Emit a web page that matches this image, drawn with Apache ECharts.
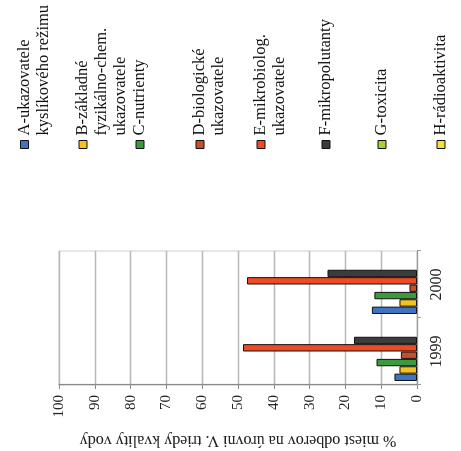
<!DOCTYPE html>
<html>
<head>
<meta charset="utf-8">
<script src="https://cdn.jsdelivr.net/npm/echarts@6/dist/echarts.min.js"></script>
<style>
  html, body { margin: 0; padding: 0; background: #fff; overflow: hidden; }
  /* the chart is laid out upright and turned a quarter turn counter-clockwise */
  #chart {
    position: absolute; left: 5px; top: -5px;
    width: 451px; height: 461px;
    transform: rotate(-90deg); transform-origin: 50% 50%;
  }
</style>
</head>
<body>
<div id="chart"></div>
<script>
// categories
const years = ['1999', '2000'];

// indicator groups (legend labels, one entry per text line)
const groupLabels = [
  ['A-ukazovatele', 'kyslíkového režimu'],
  ['B-základné', 'fyzikálno-chem.', 'ukazovatele'],
  ['C-nutrienty'],
  ['D-biologické', 'ukazovatele'],
  ['E-mikrobiolog.', 'ukazovatele'],
  ['F-mikropolutanty'],
  ['G-toxicita'],
  ['H-rádioaktivita']
];

// % of sampling sites at class V water quality
const valuesA = [6.3, 12.6];
const valuesB = [4.9, 4.9];
const valuesC = [11.3, 11.9];
const valuesD = [4.5, 2.1];
const valuesE = [48.6, 47.5];
const valuesF = [17.6, 25.0];
const valuesG = [0, 0];
const valuesH = [0, 0];

// value axis ticks
const valueTicks = [0, 10, 20, 30, 40, 50, 60, 70, 80, 90, 100];

const axisTitle = '% miest odberov na úrovni V. triedy kvality vody';

const seriesValues = [valuesA, valuesB, valuesC, valuesD, valuesE, valuesF, valuesG, valuesH];
const colors = ['#4173c3', '#f4c21c', '#3a9a3c', '#c4502c', '#ee4a24', '#3c3c3c', '#a6d22e', '#f7e03a'];
const FONT = 'Liberation Serif';

const names = groupLabels.map(l => l.join(' '));

// legend layout: one block per entry; blank lines ahead of the text keep the
// icon level with the first line
const legendIconCenters = [24.5, 83, 140, 200, 261, 326, 382, 441];
const LINE = 19;
const legends = groupLabels.map((lines, i) => {
  const n = lines.length;
  const blockH = (2 * n - 1) * LINE;
  const text = ' \n'.repeat(n - 1) + lines.join('\n');
  return {
    data: [names[i]],
    orient: 'vertical',
    left: 302,
    top: legendIconCenters[i] - blockH / 2,
    padding: 0,
    itemWidth: 8,
    itemHeight: 8,
    icon: 'rect',
    selectedMode: false,
    itemStyle: { borderColor: '#111', borderWidth: 1 },
    formatter: () => text,
    textStyle: { fontFamily: FONT, fontSize: 16.5, color: '#111', lineHeight: LINE }
  };
});

const chart = echarts.init(document.getElementById('chart'), null, { renderer: 'canvas' });
chart.setOption({
  backgroundColor: '#fff',
  animation: false,
  legend: legends,
  grid: {
    left: 66, right: 251, top: 59, bottom: 44,
    show: true, borderColor: '#cfcfcf', borderWidth: 1, backgroundColor: 'transparent'
  },
  xAxis: {
    type: 'category',
    data: years,
    axisLine: { lineStyle: { color: '#9a9a9a', width: 1 } },
    axisTick: { show: true, length: 4, lineStyle: { color: '#9a9a9a' } },
    axisLabel: { fontFamily: FONT, fontSize: 16, color: '#222', margin: 12 }
  },
  yAxis: {
    type: 'value',
    min: valueTicks[0],
    max: valueTicks[valueTicks.length - 1],
    interval: valueTicks[1] - valueTicks[0],
    name: axisTitle,
    nameLocation: 'middle',
    nameRotate: 90,
    nameGap: 47,
    nameTextStyle: { fontFamily: FONT, fontSize: 16, color: '#222' },
    axisLine: { show: true, lineStyle: { color: '#8a8a8a', width: 1.2 } },
    axisTick: { show: true, length: 4, lineStyle: { color: '#8a8a8a' } },
    axisLabel: { fontFamily: FONT, fontSize: 15, color: '#222', margin: 10 },
    splitLine: { show: true, lineStyle: { color: '#b8b8b8', width: 1.4 } }
  },
  series: names.map((name, i) => ({
    name,
    type: 'bar',
    // empty (zero) bars get no outline so they leave no mark on the axis
    data: seriesValues[i].map(v => (v === 0 ? { value: v, itemStyle: { borderWidth: 0 } } : v)),
    barGap: '0%',
    barCategoryGap: '12%',
    itemStyle: { color: colors[i], borderColor: '#111', borderWidth: 1 }
  }))
});
</script>
</body>
</html>
